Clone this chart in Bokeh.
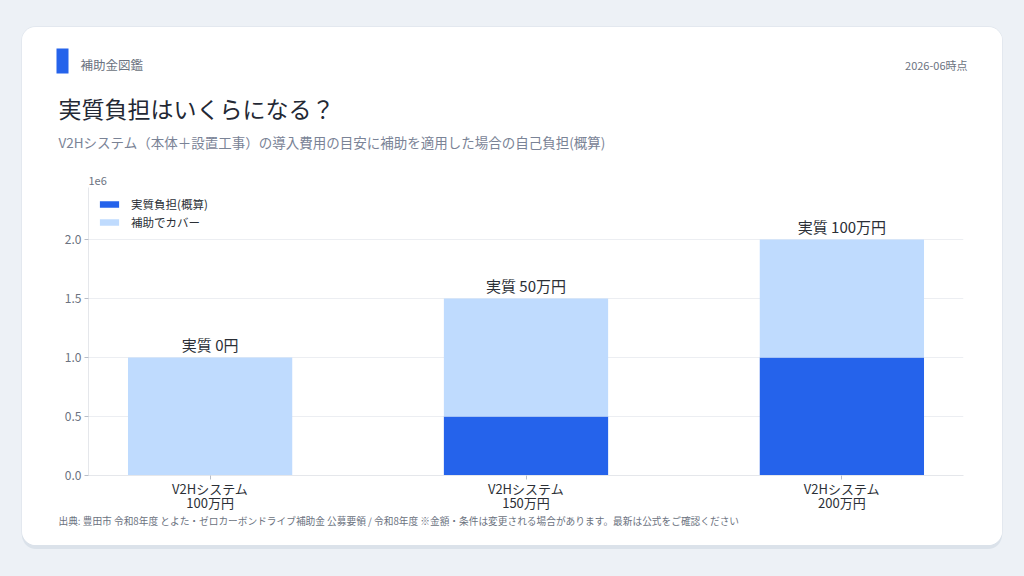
from bokeh.plotting import figure
from bokeh.layouts import column, row
from bokeh.models import (ColumnDataSource, Range1d, FixedTicker, Label,
                          GlobalInlineStyleSheet)
from bokeh.embed import file_html
from bokeh.resources import INLINE

# data (yen)
categories = ["V2Hシステム\n100万円", "V2Hシステム\n150万円", "V2Hシステム\n200万円"]
system_cost = [1000000, 1500000, 2000000]
own_burden = [0, 500000, 1000000]
subsidy = [1000000, 1000000, 1000000]
bar_labels = ["実質 0円", "実質 50万円", "実質 100万円"]
y_ticks = [0, 500000, 1000000, 1500000, 2000000]
y_tick_labels = ["0.0", "0.5", "1.0", "1.5", "2.0"]

FONT = "Noto Sans CJK JP"
BLUE = "#2563eb"
LIGHT = "#bfdbfe"
GREY = "#6b7280"
DARK = "#2b2f36"
W = 980


def blank(height):
    f = figure(width=W, height=height, output_backend="svg", toolbar_location=None,
               x_range=Range1d(0, W), y_range=Range1d(height, 0),
               x_axis_location=None, y_axis_location=None, min_border=0)
    f.grid.visible = False
    f.outline_line_color = None
    f.border_fill_color = "white"
    f.background_fill_color = "white"
    return f


def text(f, x, y, s, size, color, align="left"):
    f.add_layout(Label(x=x, y=y, text=s, text_align=align, text_baseline="middle",
                       text_font=FONT, text_font_size=size, text_color=color))


# header
head = blank(160)
head.quad(left=34, right=46, top=21, bottom=46, fill_color=BLUE, line_color=None)
text(head, 58, 37, "補助金図鑑", "12.5px", GREY)
text(head, 945, 37, "2026-06時点", "11px", GREY, align="right")
text(head, 36, 80, "実質負担はいくらになる？", "23px", "#232834")
text(head, 36, 114, "V2Hシステム（本体＋設置工事）の導入費用の目安に補助を適用した場合の自己負担(概算)", "13.5px", "#7a8396")
text(head, 66, 153, "1e6", "11px", GREY)

# chart
xs = list(range(len(categories)))
src = ColumnDataSource(dict(x=xs, burden=own_burden, total=system_cost))

p = figure(width=W, height=327, output_backend="svg", toolbar_location=None,
           x_range=Range1d(-0.385, 2.385), y_range=Range1d(0, 2440000),
           min_border_left=66, min_border_right=39, min_border_top=0,
           min_border_bottom=39)
p.border_fill_color = "white"
p.background_fill_color = "white"
p.outline_line_color = None

p.vbar(x="x", width=0.52, bottom=0, top="burden", source=src,
       fill_color=BLUE, line_color=None, legend_label="実質負担(概算)")
p.vbar(x="x", width=0.52, bottom="burden", top="total", source=src,
       fill_color=LIGHT, line_color=None, legend_label="補助でカバー")

for x, total, lab in zip(xs, system_cost, bar_labels):
    p.add_layout(Label(x=x, y=total, text=lab, text_align="center",
                       text_baseline="bottom", y_offset=2,
                       text_font=FONT, text_font_size="15px", text_color=DARK))

p.xaxis.ticker = FixedTicker(ticks=xs)
p.xaxis.major_label_overrides = {x: c for x, c in zip(xs, categories)}
p.xaxis.major_label_text_font = FONT
p.xaxis.major_label_text_font_size = "13px"
p.xaxis.major_label_text_line_height = 0.75
p.xaxis.major_label_text_color = DARK
p.xaxis.axis_line_color = "#e5e7eb"
p.xaxis.major_tick_line_color = "#b8bec8"
p.xaxis.major_tick_out = 4
p.xaxis.major_tick_in = 0
p.xaxis.minor_tick_line_color = None
p.xaxis.major_label_standoff = -1

p.yaxis.ticker = FixedTicker(ticks=y_ticks)
p.yaxis.major_label_overrides = {t: l for t, l in zip(y_ticks, y_tick_labels)}
p.yaxis.major_label_text_font = FONT
p.yaxis.major_label_text_font_size = "12px"
p.yaxis.major_label_text_color = GREY
p.yaxis.axis_line_color = "#e5e7eb"
p.yaxis.major_tick_line_color = "#b8bec8"
p.yaxis.major_tick_out = 4
p.yaxis.major_tick_in = 0
p.yaxis.minor_tick_line_color = None
p.yaxis.major_label_standoff = 3

p.xgrid.grid_line_color = None
p.ygrid.grid_line_color = "#eceef2"

p.legend.location = "top_left"
p.legend.margin = 5
p.legend.padding = 4
p.legend.spacing = 2
p.legend.glyph_width = 24
p.legend.glyph_height = 8
p.legend.label_height = 12
p.legend.label_standoff = 10
p.legend.label_text_font = FONT
p.legend.label_text_font_size = "11.5px"
p.legend.label_text_color = DARK
p.legend.background_fill_alpha = 0
p.legend.border_line_alpha = 0

# footer
foot = blank(31)
text(foot, 36, 6, "出典: 豊田市 令和8年度 とよた・ゼロカーボンドライブ補助金 公募要領 / 令和8年度 ※金額・条件は変更される場合があります。最新は公式をご確認ください", "9.7px", GREY)

card = column(head, row(p), foot, margin=(27, 0, 0, 22),
              styles={"background-color": "white", "border-radius": "14px",
                      "overflow": "hidden",
                      "box-shadow": "0 4px 0 0 #dbe2ea, 0 0 0 1px #e3e8ef"},
              stylesheets=[GlobalInlineStyleSheet(
                  css="html, body { margin: 0; background: #edf1f6; }")])

open("out.html", "w").write(file_html(card, INLINE))
